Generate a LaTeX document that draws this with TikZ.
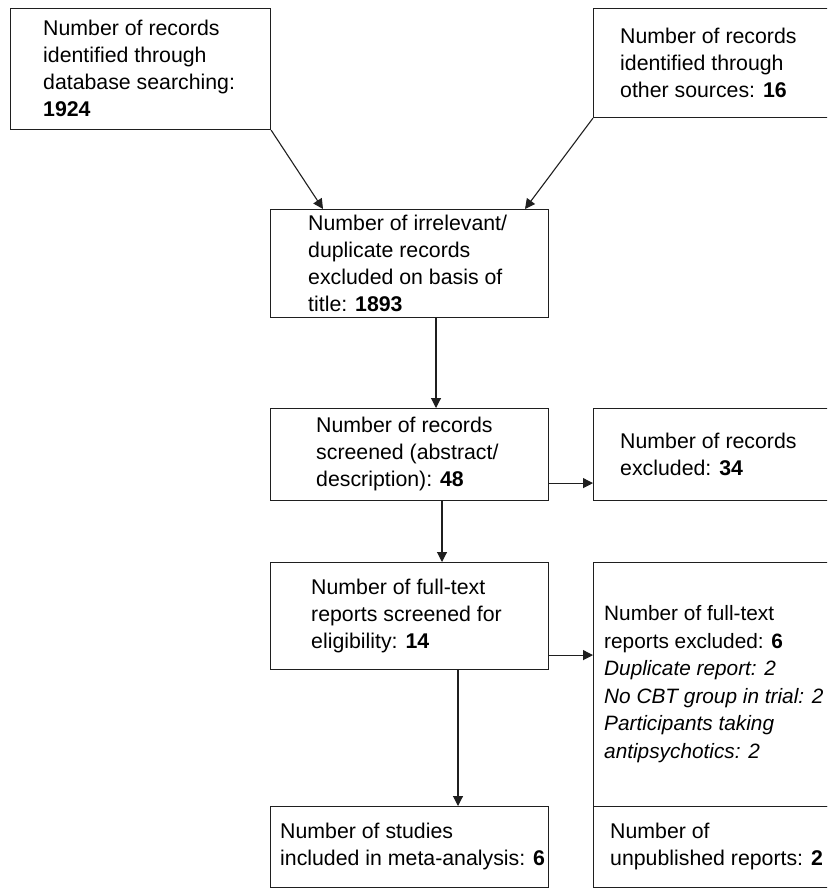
\documentclass[tikz,border=0pt]{standalone}
\usepackage{fontspec}
\setmainfont{Liberation Sans}
\usetikzlibrary{arrows.meta,calc}
\begin{document}
\begin{tikzpicture}[x=1pt,y=-1pt,
  box/.style={draw=black!88, line width=1.1pt, rectangle, inner sep=0pt, anchor=north west},
  txt/.style={anchor=west, align=left, inner sep=0pt, font=\fontsize{21.3}{27}\selectfont},
  arr/.style={draw=black!88, line width=1.1pt, -{Triangle[length=10pt,width=10pt]}}]
\clip (0,0) rectangle (827,888);
% boxes
\node[box, minimum width=260pt, minimum height=121pt] (b1) at (10,8) {};
\node[box, minimum width=245pt, minimum height=109pt] (b2) at (593,8) {};
\node[box, minimum width=278pt, minimum height=108pt] (b3) at (270,209) {};
\node[box, minimum width=278pt, minimum height=92pt] (b4) at (270,408) {};
\node[box, minimum width=245pt, minimum height=92pt] (b5) at (593,408) {};
\node[box, minimum width=278pt, minimum height=107pt] (b6) at (270,562) {};
\node[box, minimum width=245pt, minimum height=244pt] (b7) at (593,562) {};
\node[box, minimum width=245pt, minimum height=81pt] (b8) at (593,806) {};
\node[box, minimum width=278pt, minimum height=81pt] (b9) at (270,806) {};
% texts
\node[txt] (t1) at (43,68.5) {Number of records\\identified through\\database searching:\\\textbf{1924}};
\node[txt] (t2) at (620,62.5) {Number of records\\identified through\\other sources: \textbf{16}};
\node[txt] (t3) at (308,263) {Number of irrelevant/\\duplicate records\\excluded on basis of\\title: \textbf{1893}};
\node[txt] (t4) at (316,454) {Number of records\\screened (abstract/\\description): \textbf{48}};
\node[txt] (t5) at (620,454) {Number of records\\excluded: \textbf{34}};
\node[txt] (t6) at (311,615.5) {Number of full-text\\reports screened for\\eligibility: \textbf{14}};
\node[txt, font=\fontsize{20.8}{27.5}\selectfont] (t7) at (604,684) {Number of full-text\\reports excluded: \textbf{6}\\\textit{Duplicate report: 2}\\\textit{No CBT group in trial: 2}\\\textit{Participants taking}\\\textit{antipsychotics: 2}};
\node[txt] (t8) at (610,846) {Number of\\unpublished reports: \textbf{2}};
\node[txt] (t9) at (280,846) {Number of studies\\included in meta-analysis: \textbf{6}};
% connectors
\coordinate (c45) at ($(b4.south east)+(0,-18)$);
\coordinate (c67) at ($(b6.south east)+(0,-15)$);
\draw[arr] (b1.south east) -- ($(b3.north west)+(53,0)$);
\draw[arr] (b2.south west) -- ($(b3.north west)+(255,0)$);
\draw[arr] ($(b3.south west)+(166,0)$) -- ($(b4.north west)+(166,0)$);
\draw[arr] ($(b4.south west)+(172,0)$) -- ($(b6.north west)+(172,0)$);
\draw[arr] ($(b6.south west)+(188,0)$) -- ($(b9.north west)+(188,0)$);
\draw[arr] (c45) -- (c45 -| b5.west);
\draw[arr] (c67) -- (c67 -| b7.west);
\end{tikzpicture}
\end{document}
